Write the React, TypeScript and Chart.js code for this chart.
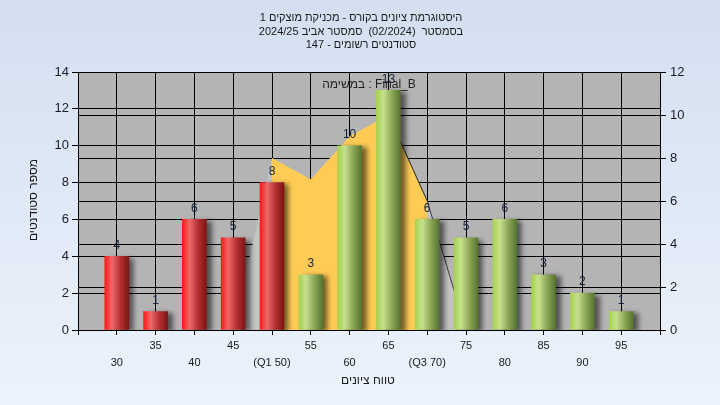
import React, { useEffect, useRef } from 'react';
import { Chart, registerables } from 'chart.js';

Chart.register(...registerables);

// ---- data ----
const categories = [30, 35, 40, 45, 50, 55, 60, 65, 70, 75, 80, 85, 90, 95];
const tickLabels = ['30', '35', '40', '45', '(Q1 50)', '55', '60', '65', '(Q3 70)', '75', '80', '85', '90', '95'];
const studentCounts = [4, 1, 6, 5, 8, 3, 10, 13, 6, 5, 6, 3, 2, 1];
const curveX = [45, 50, 55, 60, 65, 70, 75];
const curveValues = [0, 8, 7, 9, 10, 6, 0];
const q1 = 50;
const q3 = 70;
const passMark = 55;
const titleLines = [
  'היסטוגרמת ציונים בקורס - מכניקת מוצקים 1',
  'בסמסטר  (02/2024)  סמסטר אביב 2024/25',
  'סטודנטים רשומים - 147',
];
const subtitle = 'במשימה : Final_B';
const yTitle = 'מספר סטודנטים';
const xTitle = 'טווח ציונים';

const FONT = 'Arial, "Liberation Sans", sans-serif';
const BAR_W = 24;

function barGradient(c: any) {
  const chart = c.chart;
  const xs = chart.scales && chart.scales.x;
  const v = categories[c.dataIndex];
  const isPass = v >= passMark;
  if (!xs || c.type !== 'data') return isPass ? '#9CC45A' : '#E83030';
  const cx = xs.getPixelForValue(v);
  if (!isFinite(cx)) return isPass ? '#9CC45A' : '#E83030';
  const g = chart.ctx.createLinearGradient(cx - BAR_W / 2, 0, cx + BAR_W / 2, 0);
  if (isPass) {
    g.addColorStop(0, '#A6D24E');
    g.addColorStop(0.3, '#C6E08E');
    g.addColorStop(0.65, '#8AA656');
    g.addColorStop(1, '#587530');
  } else {
    g.addColorStop(0, '#FF1818');
    g.addColorStop(0.3, '#EE6A6A');
    g.addColorStop(0.65, '#B53030');
    g.addColorStop(1, '#7E1414');
  }
  return g;
}

const bgPlugin = {
  id: 'bgPlugin',
  beforeDraw(chart: any) {
    const { ctx, width, height, chartArea } = chart;
    ctx.save();
    const g = ctx.createLinearGradient(0, 0, 0, height);
    g.addColorStop(0, '#D3DFF0');
    g.addColorStop(1, '#ECF3FC');
    ctx.fillStyle = g;
    ctx.fillRect(0, 0, width, height);
    ctx.fillStyle = '#B4B4B4';
    ctx.fillRect(chartArea.left, chartArea.top, chartArea.right - chartArea.left, chartArea.bottom - chartArea.top);
    ctx.restore();
  },
  beforeDatasetDraw(chart: any, args: any) {
    if (args.meta.type !== 'bar') return;
    const ctx = chart.ctx;
    ctx.save();
    ctx.shadowColor = 'rgba(0,0,0,0.55)';
    ctx.shadowBlur = 5;
    ctx.shadowOffsetX = 5;
    ctx.shadowOffsetY = 2;
  },
  afterDatasetDraw(chart: any, args: any) {
    if (args.meta.type !== 'bar') return;
    chart.ctx.restore();
  },
  afterDatasetsDraw(chart: any) {
    const ctx = chart.ctx;
    const meta = chart.getDatasetMeta(0);
    ctx.save();
    ctx.font = '12px ' + FONT;
    ctx.fillStyle = '#14213D';
    ctx.textAlign = 'center';
    ctx.textBaseline = 'middle';
    meta.data.forEach((el: any, i: number) => {
      ctx.fillText(String(studentCounts[i]), el.x, el.y - 11);
    });
    const ca = chart.chartArea;
    ctx.fillStyle = '#222222';
    ctx.direction = 'ltr';
    ctx.fillText(subtitle, (ca.left + ca.right) / 2, 85);
    ctx.restore();
  },
  afterDraw(chart: any) {
    const ctx = chart.ctx;
    ctx.save();
    ctx.fillStyle = '#1A1A1A';
    ctx.font = '11px ' + FONT;
    ctx.textAlign = 'center';
    ctx.textBaseline = 'middle';
    ctx.direction = 'rtl';
    titleLines.forEach((t, i) => ctx.fillText(t, 361, 18 + i * 13.5));
    ctx.font = '12px ' + FONT;
    ctx.fillText(xTitle, 368, 381);
    ctx.translate(34, 200);
    ctx.rotate(-Math.PI / 2);
    ctx.fillText(yTitle, 0, 0);
    ctx.restore();
  },
};

export default function App() {
  const ref = useRef<HTMLCanvasElement | null>(null);
  useEffect(() => {
    document.body.style.margin = '0';
    const canvas = ref.current;
    if (!canvas) return;
    const inQ = (x: number) => x >= q1 && x <= q3;
    const chart = new Chart(canvas, {
      type: 'bar',
      data: {
        datasets: [
          {
            type: 'bar',
            data: categories.map((x, i) => ({ x, y: studentCounts[i] })),
            backgroundColor: barGradient as any,
            borderWidth: 0,
            barThickness: BAR_W,
            yAxisID: 'y',
            order: 0,
          } as any,
          {
            type: 'line',
            data: curveX.filter(inQ).map((x) => ({ x, y: curveValues[curveX.indexOf(x)] })),
            backgroundColor: '#FFCB55',
            borderColor: 'rgba(0,0,0,0)',
            borderWidth: 1,
            pointRadius: 0,
            fill: 'origin',
            tension: 0,
            yAxisID: 'y2',
            segment: {
              borderColor: (s: any) => (s.p0.parsed.x >= 65 ? '#3A3A3A' : 'rgba(0,0,0,0)'),
            },
            order: 1,
          } as any,
          {
            type: 'line',
            data: curveX.map((x, i) => ({ x, y: curveValues[i] })),
            backgroundColor: '#C3C3C3',
            borderColor: 'rgba(0,0,0,0)',
            borderWidth: 1,
            pointRadius: 0,
            fill: 'origin',
            tension: 0,
            yAxisID: 'y2',
            segment: {
              borderColor: (s: any) => (s.p0.parsed.x >= 65 ? '#3A3A3A' : 'rgba(0,0,0,0)'),
            },
            order: 2,
          } as any,
        ],
      },
      options: {
        responsive: false,
        animation: false,
        layout: { padding: { top: 72, left: 0, right: 0, bottom: 0 } },
        plugins: {
          legend: { display: false },
          title: { display: false },
          tooltip: { enabled: false },
        },
        scales: {
          x: {
            type: 'linear',
            min: 25,
            max: 100,
            offset: false,
            afterFit: (s: any) => { s.height = 75; },
            grid: { color: '#000000', lineWidth: 1, tickLength: 5, drawTicks: true, offset: false },
            border: { display: true, color: '#000000' },
            ticks: {
              stepSize: 5,
              autoSkip: false,
              maxRotation: 0,
              minRotation: 0,
              padding: 2,
              color: '#1A1A1A',
              font: { size: 11, family: FONT, lineHeight: 1.6 },
              callback: (v: any) => {
                const i = categories.indexOf(Number(v));
                if (i < 0) return '';
                return i % 2 === 0 ? ['', tickLabels[i]] : [tickLabels[i]];
              },
            },
          },
          y: {
            type: 'linear',
            position: 'left',
            min: 0,
            max: 14,
            afterFit: (s: any) => { s.width = 78; },
            grid: { color: '#000000', lineWidth: 1, tickLength: 6 },
            border: { display: true, color: '#000000' },
            ticks: { stepSize: 2, padding: 3, color: '#1A1A2A', font: { size: 13, family: FONT } },
          },
          y2: {
            type: 'linear',
            position: 'right',
            min: 0,
            max: 12,
            afterFit: (s: any) => { s.width = 60; },
            grid: { color: '#000000', lineWidth: 1, tickLength: 6 },
            border: { display: true, color: '#000000' },
            ticks: { stepSize: 2, padding: 4, color: '#1A1A2A', font: { size: 13, family: FONT } },
          },
        },
      } as any,
      plugins: [bgPlugin],
    });
    return () => chart.destroy();
  }, []);
  return (
    <div style={{ position: 'fixed', left: 0, top: 0, width: 720, height: 405 }}>
      <canvas ref={ref} width={720} height={405} style={{ width: 720, height: 405, display: 'block' }} />
    </div>
  );
}
